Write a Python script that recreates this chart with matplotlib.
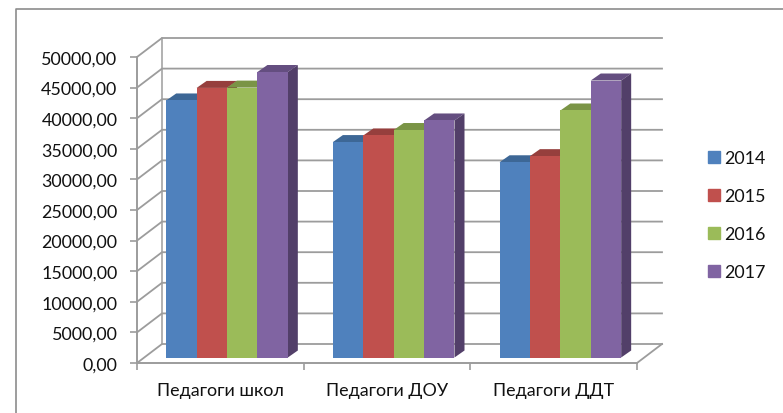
import matplotlib
matplotlib.use("Agg")
import matplotlib.pyplot as plt
from matplotlib.lines import Line2D
from matplotlib.patches import Polygon, Rectangle
from matplotlib.ticker import FuncFormatter
import numpy as np

plt.rcParams['font.family'] = ['Lato', 'DejaVu Sans']

categories = ['Педагоги школ', 'Педагоги ДОУ', 'Педагоги ДДТ']
years = ['2014', '2015', '2016', '2017']
values_2014 = [42000, 35200, 31900]
values_2015 = [44050, 36280, 32900]
values_2016 = [44100, 37170, 40360]
values_2017 = [46650, 38730, 45260]
series = [values_2014, values_2015, values_2016, values_2017]

front_colors = ['#4f81bd', '#c0504d', '#9bbb59', '#8064a2']
top_colors = ['#3d6796', '#963f3d', '#7a9446', '#644e80']
side_colors = ['#34547c', '#7c3432', '#637939', '#523f69']
grid_color = '#9c9c9c'

W, H = 783, 414
fig = plt.figure(figsize=(W / 100, H / 100), dpi=100)

# axes is the front plane of the 3D box
x0, x1, y_top, y_bot = 137, 637, 58, 364
ax = fig.add_axes([x0 / W, 1 - y_bot / H, (x1 - x0) / W, (y_bot - y_top) / H])
ax.set_xlim(0, 3)
ax.set_ylim(0, 50000)
ax.patch.set_visible(False)

px_x = 3 / (x1 - x0)
px_y = 50000 / (y_bot - y_top)

# box depth
box_dx, box_dy = 25 * px_x, 19 * px_y
yticks = np.arange(0, 50001, 5000)
for v in yticks:
    ax.plot([0, box_dx, 3 + box_dx], [v, v + box_dy, v + box_dy], color=grid_color,
            lw=1.3, clip_on=False, zorder=1)
ax.plot([box_dx, box_dx], [box_dy, 50000 + box_dy], color=grid_color, lw=1.1, clip_on=False, zorder=1)
ax.plot([3, 3 + box_dx], [0, box_dy], color=grid_color, lw=1.3, clip_on=False, zorder=1)

# bars
bar_w = 30.4 * px_x
bar_dx, bar_dy = 10 * px_x, 7 * px_y
shift_x, shift_y = 6.7 * px_x, 5.5 * px_y
for i, vals in enumerate(series):
    for c, v in enumerate(vals):
        left = c + 0.5 + shift_x + (i - 2) * bar_w
        right = left + bar_w
        base = shift_y
        top = base + v
        z = 3 + i + c * 10
        ax.bar(left, v, width=bar_w, bottom=base, align='edge', color=front_colors[i],
               clip_on=False, zorder=z + 0.5)
        ax.add_patch(Polygon([(left, top), (left + bar_dx, top + bar_dy),
                              (right + bar_dx, top + bar_dy), (right, top)],
                             facecolor=top_colors[i], clip_on=False, zorder=z))
        ax.add_patch(Polygon([(right, base), (right + bar_dx, base + bar_dy),
                              (right + bar_dx, top + bar_dy), (right, top)],
                             facecolor=side_colors[i], clip_on=False, zorder=z))

# axes lines and labels
for name in ['top', 'right']:
    ax.spines[name].set_visible(False)
for name in ['left', 'bottom']:
    ax.spines[name].set_color(grid_color)
    ax.spines[name].set_linewidth(1.4)
    ax.spines[name].set_zorder(2)
ax.set_yticks(yticks)
ax.yaxis.set_major_formatter(FuncFormatter(lambda v, pos: f'{v:.2f}'.replace('.', ',')))
ax.set_xticks([0, 1, 2, 3])
ax.set_xticklabels([])
ax.set_xticks([0.5, 1.5, 2.5], minor=True)
ax.set_xticklabels(categories, minor=True)
ax.tick_params(axis='x', which='minor', length=0, pad=14, labelsize=12.9, labelcolor='#111111')
ax.tick_params(axis='x', which='major', length=5, color=grid_color, width=1.2)
ax.tick_params(axis='y', length=5, color=grid_color, width=1.2, pad=9, labelsize=12.9, labelcolor='#111111')

# legend
handles = [Rectangle((0, 0), 1, 1, color=c) for c in front_colors]
fig.legend(handles, years, loc='upper left', bbox_to_anchor=(708 / W, 1 - 151 / H), frameon=False,
           fontsize=12.9, handlelength=0.67, handleheight=0.67, handletextpad=0.25,
           labelspacing=1.23, borderpad=0, borderaxespad=0, labelcolor='#111111')

# chart frame
fig.add_artist(Line2D([16 / W, 16 / W, 1], [0, 1 - 10 / H, 1 - 10 / H], color='#8c8c8c', lw=1.2))

fig.savefig('out.png', dpi=100)
